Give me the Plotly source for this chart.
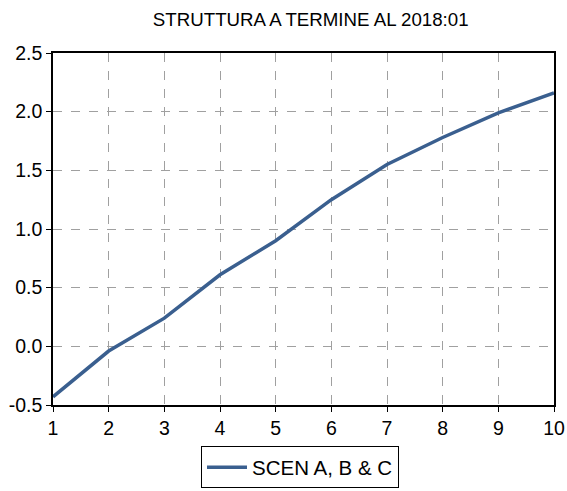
import plotly.graph_objects as go

maturity = [1, 2, 3, 4, 5, 6, 7, 8, 9, 10]
scen_abc = [-0.43, -0.04, 0.24, 0.61, 0.90, 1.25, 1.55, 1.78, 1.99, 2.16]
y_ticks = [-0.5, 0.0, 0.5, 1.0, 1.5, 2.0, 2.5]
y_tick_labels = ["-0.5", "0.0", "0.5", "1.0", "1.5", "2.0", "2.5"]

fig = go.Figure()
fig.add_trace(go.Scatter(
    x=maturity, y=scen_abc, mode="lines", name="SCEN A, B & C",
    line=dict(color="#3a5f8f", width=3.5),
))

font_family = "Liberation Sans, Arial, sans-serif"
fig.update_layout(
    width=567, height=491,
    margin=dict(l=53, r=13, t=53, b=86, autoexpand=False),
    paper_bgcolor="white", plot_bgcolor="white",
    title=dict(text="STRUTTURA A TERMINE AL 2018:01", x=0.548, xanchor="center",
               y=1 - 19 / 491, yanchor="middle",
               font=dict(family=font_family, size=18.7, color="black")),
    font=dict(family=font_family, size=19, color="black"),
    showlegend=True,
    legend=dict(orientation="h", x=0.493, xanchor="center", y=-0.237, yanchor="bottom",
                bordercolor="black", borderwidth=1, font=dict(size=20.5, color="black"),
                itemwidth=40),
    xaxis=dict(range=[1, 10], tickvals=maturity, ticks="outside", ticklen=5,
               tickcolor="black", showline=True, linecolor="black", linewidth=1.5,
               mirror=True, showgrid=True, gridcolor="#a0a0a0", griddash="dash",
               gridwidth=1, zeroline=False, tickfont=dict(size=19.5), automargin=False),
    yaxis=dict(range=[-0.5, 2.5], tickvals=y_ticks, ticktext=y_tick_labels,
               ticks="outside", ticklen=5, tickcolor="black", showline=True,
               linecolor="black", linewidth=1.5, mirror=True, showgrid=True,
               gridcolor="#a0a0a0", griddash="dash", gridwidth=1, zeroline=False,
               tickfont=dict(size=19.5), automargin=False),
)

fig.write_html("out.html", config={"displayModeBar": False},
               post_script="document.body.style.margin='0';document.body.style.padding='0';")
